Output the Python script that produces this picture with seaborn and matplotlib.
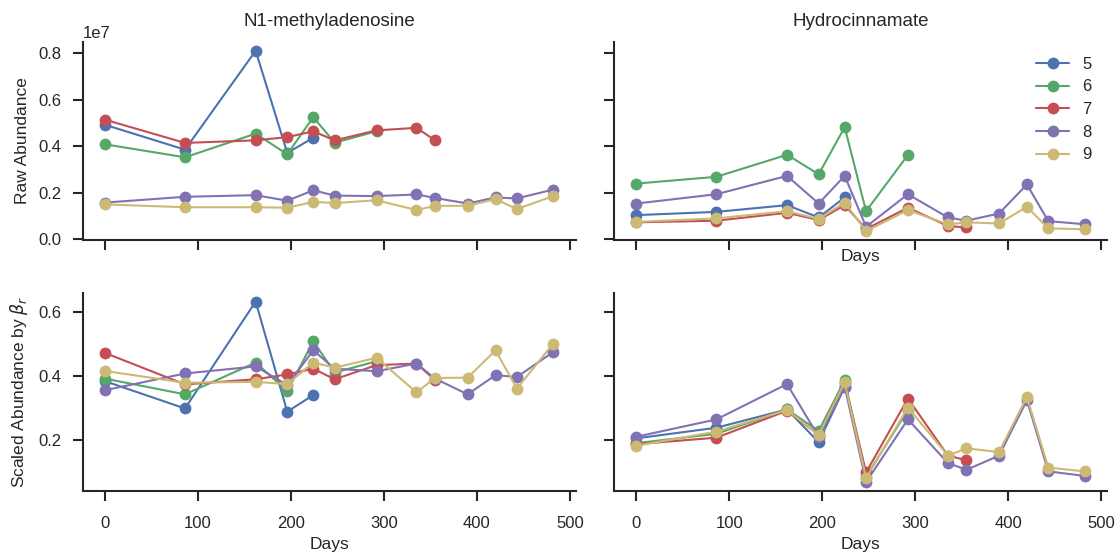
import numpy as np
import pandas as pd
import matplotlib
matplotlib.use("Agg")
import matplotlib.pyplot as plt
import seaborn as sns

# Sampling days for each subject
days_all = [0, 86, 162, 196, 224, 247, 292, 335, 355, 390, 420, 443, 482]
subjects = ["5", "6", "7", "8", "9"]
n_points = {"5": 5, "6": 7, "7": 9, "8": 13, "9": 13}

# N1-methyladenosine, raw abundance
n1_raw = {
    "5": [4.92e6, 3.85e6, 8.11e6, 3.71e6, 4.36e6],
    "6": [4.08e6, 3.52e6, 4.54e6, 3.65e6, 5.25e6, 4.15e6, 4.64e6],
    "7": [5.14e6, 4.14e6, 4.25e6, 4.39e6, 4.64e6, 4.25e6, 4.68e6, 4.79e6, 4.25e6],
    "8": [1.57e6, 1.82e6, 1.89e6, 1.65e6, 2.10e6, 1.87e6, 1.85e6, 1.92e6, 1.77e6,
          1.53e6, 1.79e6, 1.75e6, 2.13e6],
    "9": [1.49e6, 1.37e6, 1.37e6, 1.35e6, 1.60e6, 1.55e6, 1.67e6, 1.25e6, 1.43e6,
          1.43e6, 1.72e6, 1.29e6, 1.85e6],
}

# Hydrocinnamate, raw abundance
hc_raw = {
    "5": [1.03e6, 1.17e6, 1.46e6, 0.93e6, 1.79e6],
    "6": [2.39e6, 2.68e6, 3.63e6, 2.79e6, 4.82e6, 1.20e6, 3.62e6],
    "7": [0.72e6, 0.79e6, 1.13e6, 0.82e6, 1.46e6, 0.43e6, 1.35e6, 0.56e6, 0.50e6],
    "8": [1.53e6, 1.93e6, 2.72e6, 1.53e6, 2.72e6, 0.53e6, 1.93e6, 0.93e6, 0.79e6,
          1.10e6, 2.35e6, 0.77e6, 0.64e6],
    "9": [0.74e6, 0.89e6, 1.20e6, 0.86e6, 1.57e6, 0.34e6, 1.25e6, 0.63e6, 0.72e6,
          0.67e6, 1.39e6, 0.46e6, 0.42e6],
}

# N1-methyladenosine, scaled by beta_r
n1_scaled = {
    "5": [0.383, 0.298, 0.631, 0.288, 0.340],
    "6": [0.391, 0.342, 0.441, 0.352, 0.507, 0.410, 0.445],
    "7": [0.471, 0.373, 0.389, 0.404, 0.422, 0.389, 0.433, 0.438, 0.386],
    "8": [0.355, 0.407, 0.429, 0.371, 0.479, 0.422, 0.414, 0.438, 0.391,
          0.342, 0.402, 0.396, 0.474],
    "9": [0.415, 0.378, 0.381, 0.374, 0.441, 0.425, 0.456, 0.348, 0.393,
          0.394, 0.479, 0.360, 0.500],
}

# Hydrocinnamate, scaled by beta_r
hc_scaled = {
    "5": [0.205, 0.238, 0.295, 0.193, 0.365],
    "6": [0.190, 0.219, 0.295, 0.228, 0.386, 0.086, 0.293],
    "7": [0.187, 0.207, 0.291, 0.216, 0.378, 0.099, 0.329, 0.151, 0.137],
    "8": [0.210, 0.264, 0.374, 0.210, 0.366, 0.069, 0.264, 0.128, 0.107,
          0.151, 0.324, 0.102, 0.088],
    "9": [0.182, 0.226, 0.293, 0.216, 0.379, 0.081, 0.301, 0.151, 0.174,
          0.162, 0.334, 0.114, 0.102],
}

titles = ["N1-methyladenosine", "Hydrocinnamate"]


def to_frame(values):
    rows = []
    for s in subjects:
        for d, v in zip(days_all[:n_points[s]], values[s]):
            rows.append({"Days": d, "Subject": s, "Value": v})
    return pd.DataFrame(rows)


sns.set_theme(style="ticks", context="notebook")
plt.rcParams["font.family"] = ["Liberation Sans", "DejaVu Sans"]
plt.rcParams.update({
    "axes.linewidth": 1.5,
    "xtick.major.width": 1.5,
    "ytick.major.width": 1.5,
    "xtick.major.size": 7.5,
    "ytick.major.size": 7.5,
    "xtick.major.pad": 10.5,
    "ytick.major.pad": 8,
    "xtick.labelsize": 12,
    "ytick.labelsize": 12,
    "axes.labelsize": 12.5,
    "axes.labelpad": 6,
    "axes.titlesize": 13.5,
})

palette = sns.color_palette("deep6")[:5]

fig, axes = plt.subplots(2, 2, figsize=(11.15, 5.54), dpi=100,
                         sharex=True, sharey="row")
fig.subplots_adjust(left=0.0741, right=0.9928, bottom=0.1137, top=0.9247,
                    wspace=0.078, hspace=0.264)

panels = [[n1_raw, hc_raw], [n1_scaled, hc_scaled]]
for r in range(2):
    for c in range(2):
        ax = axes[r, c]
        df = to_frame(panels[r][c])
        sns.lineplot(data=df, x="Days", y="Value", hue="Subject",
                     hue_order=subjects, palette=palette, marker="o",
                     markersize=8.5, markeredgewidth=0, linewidth=1.5,
                     ax=ax, legend=(r == 0 and c == 1))
        ax.set_ylabel("")
        ax.set_xlabel("")
        if r == 0:
            ax.set_title(titles[c], pad=11)

axes[0, 0].set_ylabel("Raw Abundance")
axes[1, 0].set_ylabel(r"Scaled Abundance by $\beta_r$")
axes[1, 0].set_xlabel("Days", labelpad=4)
axes[1, 1].set_xlabel("Days", labelpad=4)
axes[0, 1].set_xlabel("Days", labelpad=-1.5)
axes[0, 1].xaxis.label.set_visible(True)

axes[1, 0].set_xticks([0, 100, 200, 300, 400, 500])
axes[0, 0].set_yticks([0, 2e6, 4e6, 6e6, 8e6])
axes[0, 0].yaxis.get_major_formatter().set_powerlimits((7, 7))
axes[1, 0].set_yticks([0.2, 0.4, 0.6])

sns.move_legend(axes[0, 1], "upper right", title=None, frameon=False,
                fontsize=12, labelspacing=0.46, bbox_to_anchor=(1.0, 1.0))

sns.despine(fig)
fig.savefig("out.png", dpi=100)
